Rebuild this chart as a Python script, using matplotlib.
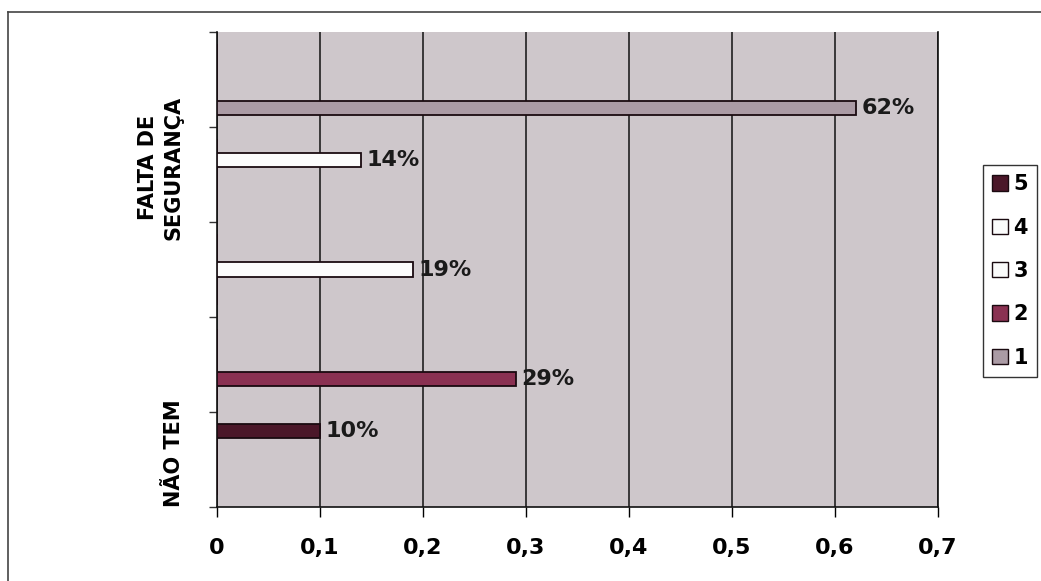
import matplotlib
matplotlib.use("Agg")
import matplotlib.pyplot as plt
import numpy as np
from matplotlib.ticker import FuncFormatter, FixedLocator
from matplotlib.patches import Patch

# ---- data ----
categories = ["NÃO TEM", "", "", "FALTA DE\nSEGURANÇA", ""]
series_names = ["1", "2", "3", "4", "5"]
s1 = [0, 0, 0, 0, 0.62]
s2 = [0, 0.29, 0, 0, 0]
s3 = [0, 0, 0.19, 0, 0]
s4 = [0, 0, 0, 0.14, 0]
s5 = [0.10, 0, 0, 0, 0]
series_values = [s1, s2, s3, s4, s5]
x_ticks = [0, 0.1, 0.2, 0.3, 0.4, 0.5, 0.6, 0.7]

# ---- styles ----
colors = ["#ab9ba5", "#8a3152", "#fbfbfb", "#fbfbfb", "#4b1729"]
plot_bg = "#cec7cb"
font = "DejaVu Sans"

W, H = 1041, 581
fig = plt.figure(figsize=(W / 100, H / 100), dpi=100)
fig.patch.set_facecolor("white")
ax = fig.add_axes([217 / W, 1 - 507 / H, (938 - 217) / W, (507 - 32) / H])
ax.set_facecolor(plot_bg)

pos = np.arange(len(categories))
bh = 0.15
for i, (vals, c) in enumerate(zip(series_values, colors)):
    vals = np.array(vals, dtype=float)
    b = ax.barh(pos + (i - 2) * bh, vals, height=bh, color=c,
                edgecolor="#1a0a10", linewidth=1.3, zorder=3,
                label=series_names[i])
    labs = [f"{v * 100:.0f}%" if v > 0 else "" for v in vals]
    ax.bar_label(b, labels=labs, padding=4, fontsize=16, fontweight="bold",
                 family=font, color="#1a1a1a", zorder=4)

ax.set_xlim(0, 0.7)
ax.set_ylim(-0.5, len(categories) - 0.5)
ax.set_xticks(x_ticks)
ax.xaxis.set_major_formatter(FuncFormatter(lambda v, p: f"{v:.1f}".replace(".", ",") if v != 0 else "0"))
ax.grid(axis="x", color="#111111", linewidth=1.1, zorder=1)
ax.set_axisbelow(True)

# y ticks at category boundaries, labels at centers
ax.yaxis.set_major_locator(FixedLocator(np.arange(-0.5, len(categories), 1.0)))
ax.yaxis.set_major_formatter(FuncFormatter(lambda v, p: ""))
ax.yaxis.set_minor_locator(FixedLocator(pos + 0.07))
ax.set_yticklabels(categories, minor=True, rotation=90, va="center",
                   ha="right", multialignment="center", linespacing=1.35,
                   fontsize=15, fontweight="bold", family=font)
ax.tick_params(axis="y", which="minor", length=0, pad=24)
ax.tick_params(axis="y", which="major", length=6, width=1, color="#333333")
ax.tick_params(axis="x", which="major", length=7, width=1, pad=15,
               labelsize=16)
for t in ax.get_xticklabels():
    t.set_fontweight("bold")
    t.set_family(font)

ax.spines["top"].set_visible(False)
for s in ["left", "bottom", "right"]:
    ax.spines[s].set_color("#111111")
    ax.spines[s].set_linewidth(1.2)

# legend (5 at top)
handles = [Patch(facecolor=colors[i], edgecolor="#1a0a10", linewidth=1.0,
                 label=series_names[i]) for i in range(4, -1, -1)]
leg = fig.legend(handles=handles, loc="upper left",
                 bbox_to_anchor=(983 / W, 1 - 165 / H),
                 bbox_transform=fig.transFigure,
                 prop={"family": font, "weight": "bold", "size": 15},
                 handlelength=0.75, handleheight=0.75, handletextpad=0.25,
                 labelspacing=1.12, borderpad=0.45, fancybox=False,
                 framealpha=1, edgecolor="#333333", borderaxespad=0)
leg.get_frame().set_linewidth(1.0)

# outer frame (left & top visible)
fig.add_artist(plt.Line2D([8 / W, 8 / W], [0, 1 - 12 / H], transform=fig.transFigure,
                          color="#444444", linewidth=1.2))
fig.add_artist(plt.Line2D([8 / W, 1], [1 - 12 / H, 1 - 12 / H], transform=fig.transFigure,
                          color="#444444", linewidth=1.2))

fig.savefig("out.png", dpi=100)
